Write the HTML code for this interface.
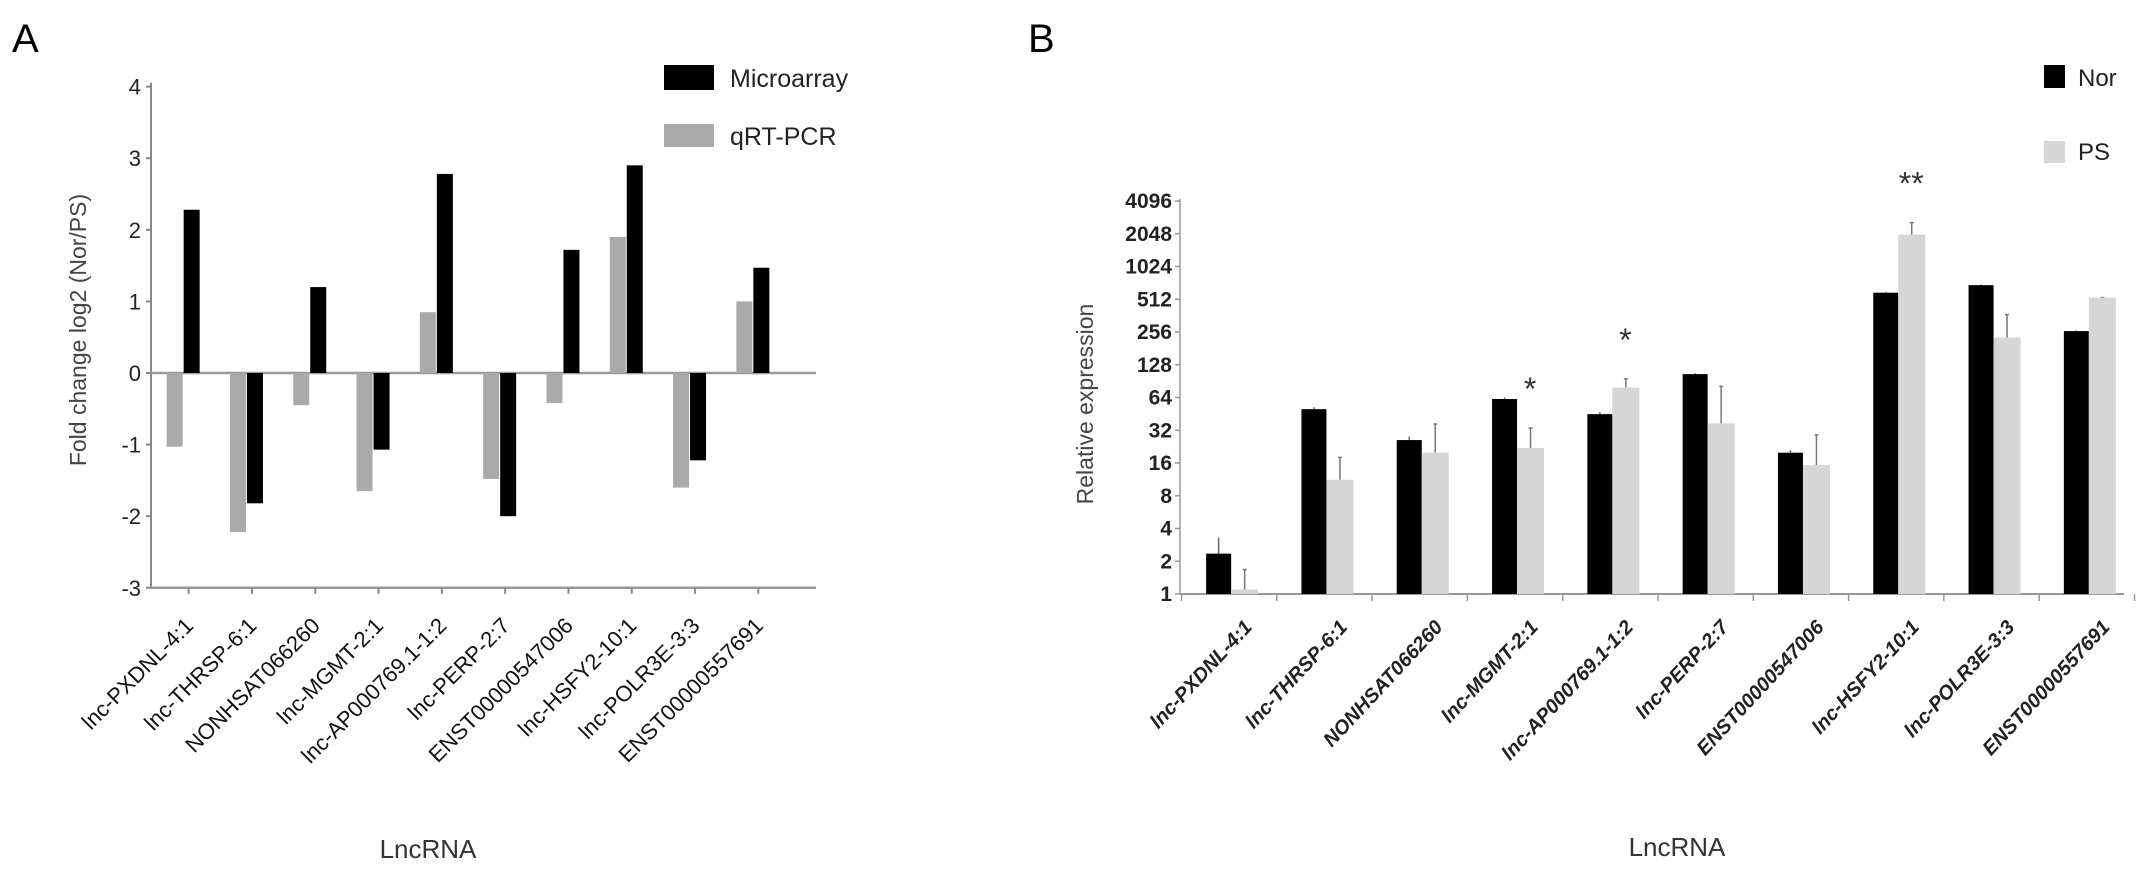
<!DOCTYPE html>
<html><head><meta charset="utf-8">
<style>
html,body{margin:0;padding:0;background:#fff;}
svg{display:block;font-family:"Liberation Sans",sans-serif;}
</style></head>
<body>
<svg id="fig" width="2150" height="872" viewBox="0 0 2150 872" xmlns="http://www.w3.org/2000/svg">
<text x="12" y="52" font-size="40">A</text>
<text x="1028" y="52" font-size="40">B</text>
<g id="chartA"></g>
<g id="chartB"></g>
</svg>
<script>
const categoriesA = ["lnc-PXDNL-4:1","lnc-THRSP-6:1","NONHSAT066260","lnc-MGMT-2:1","lnc-AP000769.1-1:2","lnc-PERP-2:7","ENST00000547006","lnc-HSFY2-10:1","lnc-POLR3E-3:3","ENST00000557691"];
const microarrayValues = [2.28,-1.82,1.2,-1.07,2.78,-2.0,1.72,2.9,-1.22,1.47];
const qrtpcrValues = [-1.03,-2.22,-0.45,-1.65,0.85,-1.48,-0.42,1.9,-1.6,1.0];
const yTicksA = [4,3,2,1,0,-1,-2,-3];

const categoriesB = categoriesA;
const norValues = [2.35,50,26,62,45,105,19.9,588,690,261];
const norErr = [3.3,52,28,64,47,107,21,600,700,265];
const psValues = [1.1,11.2,19.9,22,79,37,15.3,2010,228,530];
const psErr = [1.68,18,36.5,33.6,95,81,29,2590,370,530];
const yTicksB = [1,2,4,8,16,32,64,128,256,512,1024,2048,4096];
const starLabels = ["","","","*","*","","","**","",""];

const NS="http://www.w3.org/2000/svg";
function mk(parent,tag,attrs,text){const e=document.createElementNS(NS,tag);for(const k in attrs)e.setAttribute(k,attrs[k]);if(text!==undefined)e.textContent=text;parent.appendChild(e);return e;}

// ---------- Chart A ----------
(function(){
const g=document.getElementById('chartA');
const x0=151, band=63.3, zeroY=373, unit=71.6;
const yA=v=>zeroY-v*unit;
const xA=i=>x0+band*(i+0.5);
const ax=mk(g,'line',{x1:x0,y1:yA(4)-4,x2:x0,y2:yA(-3),stroke:'#888','stroke-width':2});


const xa=mk(g,'line',{x1:x0,y1:yA(-3),x2:816,y2:yA(-3),stroke:'#999','stroke-width':2.5});


const zl=mk(g,'line',{x1:x0,y1:zeroY,x2:816,y2:zeroY,stroke:'#999','stroke-width':2.5});


yTicksA.forEach(t=>{
  mk(g,'line',{x1:x0-5,y1:yA(t),x2:x0,y2:yA(t),stroke:'#888','stroke-width':2});
  const tl=mk(g,'text',{x:x0-10,y:yA(t)+8,'font-size':22,'text-anchor':'end',fill:'#222'},String(t));
  
  
});
categoriesA.forEach((c,i)=>{
  const cx=xA(i)+6;
  mk(g,'line',{x1:cx,y1:yA(-3),x2:cx,y2:yA(-3)+6,stroke:'#888','stroke-width':2});
  const q=qrtpcrValues[i], m=microarrayValues[i];
  const r1=mk(g,'rect',{x:xA(i)-16,y:Math.min(yA(q),zeroY),width:16,height:Math.abs(yA(q)-zeroY),fill:'#aaaaaa'});
  
  
  const r2=mk(g,'rect',{x:xA(i)+1,y:Math.min(yA(m),zeroY),width:16,height:Math.abs(yA(m)-zeroY),fill:'#000'});
  
  
  const lx=cx+6, ly=627;
  const t=mk(g,'text',{x:lx,y:ly,'font-size':22,'text-anchor':'end',fill:'#111',transform:`rotate(-45 ${lx} ${ly})`},c);
  
  
});
const yt=mk(g,'text',{x:0,y:0,'font-size':23,'text-anchor':'middle',fill:'#444',transform:'translate(86 330) rotate(-90)'},'Fold change log2 (Nor/PS)');


const xt=mk(g,'text',{x:428,y:858,'font-size':26,'text-anchor':'middle',fill:'#333'},'LncRNA');


const l1=mk(g,'rect',{x:664,y:65,width:50,height:25,fill:'#000'});


const l1t=mk(g,'text',{x:730,y:87,'font-size':25,fill:'#222'},'Microarray');


const l2=mk(g,'rect',{x:664,y:124,width:50,height:23,fill:'#aaaaaa'});


const l2t=mk(g,'text',{x:730,y:145,'font-size':25,fill:'#222'},'qRT-PCR');


})();

// ---------- Chart B ----------
(function(){
const g=document.getElementById('chartB');
const x0=1183.5, band=95.3, baseY=594, perDbl=32.75;
const yB=v=>baseY-Math.log2(v)*perDbl;
const xB=i=>x0+band*(i+0.5);
const ax=mk(g,'line',{x1:1180,y1:yB(4096)-2,x2:1180,y2:baseY,stroke:'#999','stroke-width':1.5});


const xa=mk(g,'line',{x1:1180,y1:baseY,x2:2124,y2:baseY,stroke:'#999','stroke-width':2});


yTicksB.forEach(t=>{
  mk(g,'line',{x1:1175,y1:yB(t),x2:1180,y2:yB(t),stroke:'#999','stroke-width':1.5});
  const tl=mk(g,'text',{x:1172,y:yB(t)+7,'font-size':21,'font-weight':'bold','text-anchor':'end',fill:'#222'},String(t));
  
  
});
for(let i=0;i<=categoriesB.length;i++){
  const bx=x0+band*i-2;
  mk(g,'line',{x1:bx,y1:baseY,x2:bx,y2:baseY+7,stroke:'#999','stroke-width':1.5});
}
categoriesB.forEach((c,i)=>{
  const cx=xB(i);
  const n=norValues[i], p=psValues[i];
  mk(g,'line',{x1:cx-12.5,y1:yB(norErr[i]),x2:cx-12.5,y2:yB(n),stroke:'#666','stroke-width':1.5});
  mk(g,'line',{x1:cx+13.5,y1:yB(psErr[i]),x2:cx+13.5,y2:yB(p),stroke:'#777','stroke-width':1.5});
  mk(g,'line',{x1:cx+11.5,y1:yB(psErr[i]),x2:cx+15.5,y2:yB(psErr[i]),stroke:'#777','stroke-width':1.5});
  const r1=mk(g,'rect',{x:cx-25,y:yB(n),width:25,height:baseY-yB(n),fill:'#000'});
  
  
  const r2=mk(g,'rect',{x:cx,y:yB(p),width:27,height:baseY-yB(p),fill:'#d6d6d6'});
  
  
  if(starLabels[i]){
    const s=mk(g,'text',{x:cx+13,y:yB(psErr[i])-28,'font-size':32,'text-anchor':'middle',fill:'#333'},starLabels[i]);
    
    
  }
  const lx=cx+22, ly=628;
  const t=mk(g,'text',{x:lx,y:ly,'font-size':20,'font-style':'italic','font-weight':'bold','text-anchor':'end',fill:'#222',transform:`rotate(-47 ${lx} ${ly})`},c);
  
  
});
const yt=mk(g,'text',{x:0,y:0,'font-size':23,'text-anchor':'middle',fill:'#444',transform:'translate(1093 404) rotate(-90)'},'Relative expression');


const xt=mk(g,'text',{x:1677,y:856,'font-size':26,'text-anchor':'middle',fill:'#333'},'LncRNA');


const l1=mk(g,'rect',{x:2044,y:65,width:21,height:23,fill:'#000'});


const l1t=mk(g,'text',{x:2078,y:86,'font-size':24,fill:'#222'},'Nor');


const l2=mk(g,'rect',{x:2044,y:141,width:21,height:22,fill:'#d6d6d6'});


const l2t=mk(g,'text',{x:2078,y:160,'font-size':24,fill:'#222'},'PS');


})();
</script>
</body></html>
